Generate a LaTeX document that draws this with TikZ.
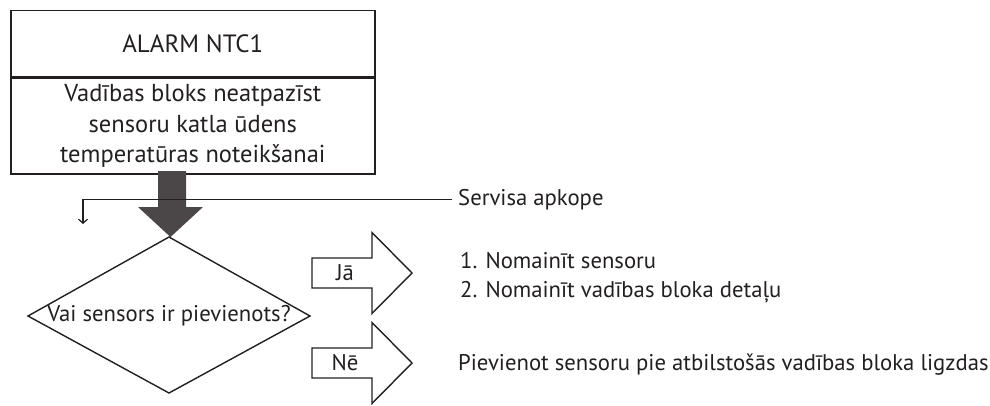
\documentclass[tikz,border=0pt]{standalone}
\usepackage{fontspec}
\setmainfont{PT Sans}
\usetikzlibrary{arrows.meta}
\definecolor{ink}{HTML}{231F20}
\definecolor{bigarrow}{HTML}{4B4647}
\begin{document}
\begin{tikzpicture}[x=1pt,y=-1pt,
  every node/.style={text=ink, font=\fontsize{22.7}{29}\selectfont},
  boxline/.style={draw=ink, line width=1.6pt},
  thinline/.style={draw=ink, line width=1.4pt},
  lbl/.style={anchor=base west, inner sep=0pt}]
\useasboundingbox (0,0) rectangle (990,405);
% top box
\node[boxline, minimum width=364pt, minimum height=66pt, inner sep=0pt, anchor=north west] (alarm) at (10,9.5)
  {\fontsize{25}{30}\selectfont ALARM NTC1};
\node[boxline, minimum width=364pt, minimum height=96pt, inner sep=0pt, anchor=north west, align=center,
  font=\fontsize{24.5}{30.5}\selectfont] (desc) at (alarm.south west)
  {Vadības bloks neatpazīst\\sensoru katla ūdens\\temperatūras noteikšanai};
% big arrow
\fill[bigarrow] (158,171) -- (186,171) -- (186,207) -- (203,207) -- (170.5,237) -- (138,207) -- (158,207) -- cycle;
% decision
\coordinate (qt) at (169,237);
\coordinate (qr) at (310,316);
\coordinate (qb) at (169,393);
\coordinate (ql) at (28,316);
\draw[thinline, line join=miter] (qt) -- (qr) -- (qb) -- (ql) -- cycle;
\node[inner sep=0pt] (q) at (169,316) {Vai sensors ir pievienots?};
% service
\node[lbl] (serv) at (458,205) {Servisa apkope};
\coordinate (sdown) at (83,224);
\draw[thinline, line width=1.2pt, -{Straight Barb[length=4pt,width=9pt,line width=1.2pt]}] ([xshift=-6pt]serv.west) -| (sdown);
% yes arrow
\draw[thinline, fill=white] (312,258) -- (372,258) -- (372,232.5) -- (412,273) -- (372,313.5) -- (372,288) -- (312,288) -- cycle;
\node (ja) at (345,273) {Jā};
% no arrow
\draw[thinline, fill=white] (312,348) -- (372,348) -- (372,322.5) -- (412,363) -- (372,403.5) -- (372,378) -- (312,378) -- cycle;
\node (ne) at (345,363) {Nē};
% texts
\node[lbl] (yes1) at (460,268) {1. Nomainīt sensoru};
\node[lbl] (yes2) at (460,297) {2. Nomainīt vadības bloka detaļu};
\node[lbl] (no) at (458,370) {Pievienot sensoru pie atbilstošās vadības bloka ligzdas};
\end{tikzpicture}
\end{document}
